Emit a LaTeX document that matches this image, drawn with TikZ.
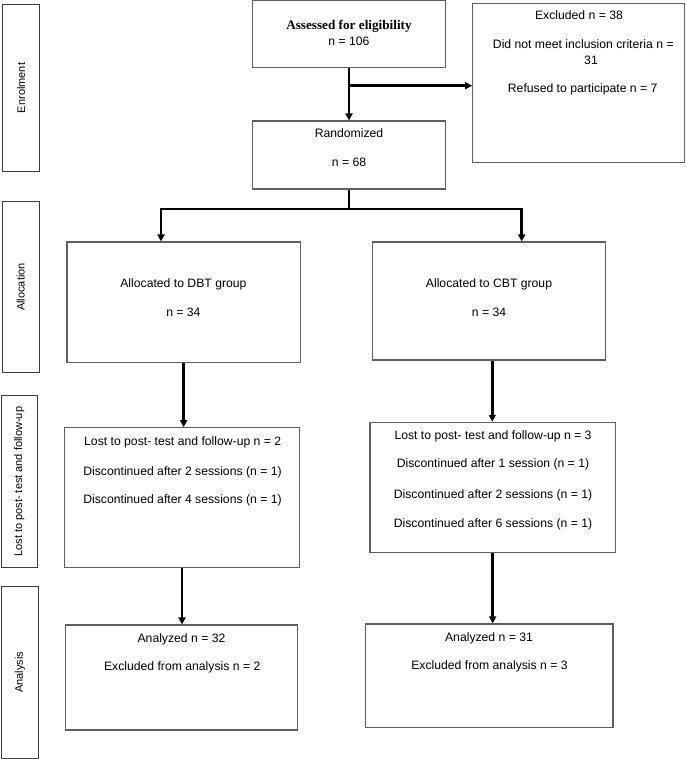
\documentclass[tikz,border=0pt]{standalone}
\usepackage{fontspec}
\setmainfont{Liberation Sans}
\newfontfamily\boldserif{Liberation Serif}
\usetikzlibrary{arrows.meta}
\definecolor{boxgray}{RGB}{95,95,95}
\definecolor{labgray}{RGB}{60,60,60}
\tikzset{
  box/.style={draw=boxgray, line width=1.1pt, rectangle, inner sep=0pt, fill=none},
  lab/.style={draw=labgray, line width=1.1pt, rectangle, inner sep=0pt, rotate=90,
              font=\fontsize{11}{13}\selectfont},
  txt/.style={inner sep=0pt, anchor=base, font=\fontsize{12.2}{14.6}\selectfont},
  conn/.style={line width=2.6pt, black},
  arr/.style={line width=2.6pt, black, -{Triangle[width=7pt,length=7pt]}},
}
\begin{document}
\begin{tikzpicture}[x=1pt, y=-1pt]
\useasboundingbox (0,0) rectangle (685,759);

% stage labels
\node[lab, minimum width=167.4pt, minimum height=37pt] (enrol) at (21.2,88) {Enrolment};
\node[lab, minimum width=170.6pt, minimum height=36.5pt] (alloc) at (20.8,287) {Allocation};
\node[lab, minimum width=172pt, minimum height=36.3pt] (lostl) at (19.2,481.7) {Lost to post- test and follow-up};
\node[lab, minimum width=172pt, minimum height=36.6pt] (anal) at (20,672.3) {Analysis};

% boxes
\node[box, minimum width=193.4pt, minimum height=67pt] (assess) at (349,34.2) {};
\node[box, minimum width=211.6pt, minimum height=159.4pt] (excl) at (578.5,83) {};
\node[box, minimum width=193.4pt, minimum height=68pt] (rand) at (349,155) {};
\node[box, minimum width=233.3pt, minimum height=120.7pt] (dbt) at (183.65,302.35) {};
\node[box, minimum width=233.4pt, minimum height=118pt] (cbt) at (489,301) {};
\node[box, minimum width=235.4pt, minimum height=139.6pt] (dlost) at (182,497.5) {};
\node[box, minimum width=245.3pt, minimum height=130pt] (clost) at (492.65,487.3) {};
\node[box, minimum width=232.4pt, minimum height=105pt] (dana) at (181.5,677.5) {};
\node[box, minimum width=247.3pt, minimum height=103.7pt] (cana) at (489.35,675.85) {};

% texts
\node[txt, font=\boldserif\bfseries\fontsize{13.2}{15}\selectfont] (t1) at (349,29.5) {Assessed for eligibility};
\node[txt] (t2) at (349,46) {n = 106};
\node[txt] (t3) at (579,20) {Excluded n = 38};
\node[txt] (t4) at (583.3,48.5) {Did not meet inclusion criteria n =};
\node[txt] (t5) at (591,65) {31};
\node[txt] (t6) at (582.7,93) {Refused to participate n = 7};
\node[txt] (t7) at (349,138) {Randomized};
\node[txt] (t8) at (349,166.5) {n = 68};
\node[txt] (t9) at (183.4,287) {Allocated to DBT group};
\node[txt] (t10) at (183.4,316) {n = 34};
\node[txt] (t11) at (489,287) {Allocated to CBT group};
\node[txt] (t12) at (489,316) {n = 34};
\node[txt] (t13) at (182.7,445) {Lost to post- test and follow-up n = 2};
\node[txt] (t14) at (182.5,475) {Discontinued after 2 sessions (n = 1)};
\node[txt] (t15) at (182.5,503) {Discontinued after 4 sessions (n = 1)};
\node[txt] (t16) at (493,439) {Lost to post- test and follow-up n = 3};
\node[txt] (t17) at (493,467.5) {Discontinued after 1 session (n = 1)};
\node[txt] (t18) at (493,498.5) {Discontinued after 2 sessions (n = 1)};
\node[txt] (t19) at (493,527) {Discontinued after 6 sessions (n = 1)};
\node[txt] (t20) at (181.5,642) {Analyzed n = 32};
\node[txt] (t21) at (182.2,670) {Excluded from analysis n = 2};
\node[txt] (t22) at (489,641) {Analyzed n = 31};
\node[txt] (t23) at (489.5,669) {Excluded from analysis n = 3};

% connectors
\coordinate (b1) at (349,85.7);
\coordinate (split) at (349,209);
\coordinate (sL) at (161,209);
\coordinate (sR) at (521.7,209);
\coordinate (cA) at (492.3,360);

\draw[arr] (assess.south) -- (rand.north);
\draw[arr] (b1) -- (b1 -| excl.west);
\draw[conn] (rand.south) -- (split);
\draw[arr, line join=miter] (split) -- (sL) -- (sL |- dbt.north);
\draw[arr, line join=miter] (split) -- (sR) -- (sR |- cbt.north);
\draw[arr] (dbt.south) -- (dbt.south |- dlost.north);
\draw[arr] (cA |- cbt.south) -- (cA |- clost.north);
\draw[arr] (dlost.south) -- (dlost.south |- dana.north);
\draw[arr] (clost.south) -- (clost.south |- cana.north);
\end{tikzpicture}
\end{document}
